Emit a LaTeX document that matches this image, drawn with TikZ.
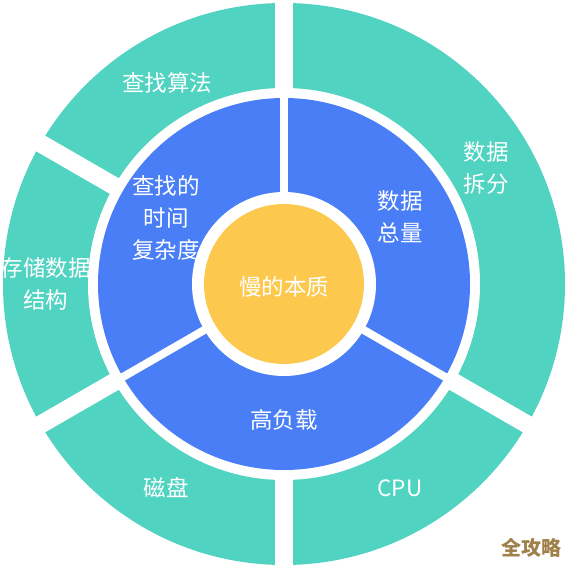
\documentclass[tikz,border=0pt]{standalone}
\usepackage{fontspec}
\newfontfamily\cjk{Noto Sans CJK SC}
\usetikzlibrary{calc}
\definecolor{tealc}{HTML}{50D3C0}
\definecolor{bluec}{HTML}{4A7EF6}
\definecolor{yellowc}{HTML}{FDC84E}
\definecolor{wmc}{HTML}{A0804A}
\tikzset{
  lbl/.style={text=white, font=\cjk\fontsize{22.5}{32}\selectfont, align=center, inner sep=0pt},
  wm/.style={text=wmc, font=\cjk\bfseries\fontsize{20}{24}\selectfont, inner sep=0pt},
  tealgap/.style={white, line width=18pt},
  bluegap/.style={white, line width=8pt}
}
\begin{document}
\begin{tikzpicture}[x=1pt,y=1pt]
\useasboundingbox (0,0) rectangle (567,568);
\coordinate (C) at (284,284);
\fill[tealc] (C) circle (281pt);
\fill[white] (C) circle (196pt);
\fill[bluec] (C) circle (186pt);
\foreach \a in {90,210,330} \draw[bluegap] (C) -- ++(\a:192pt);
\foreach \a in {90,150,210,270,330} \draw[tealgap] ($(C)+(\a:190pt)$) -- ++(\a:100pt);
\fill[white] (C) circle (92pt);
\fill[yellowc] (C) circle (80pt);
\node[lbl] (t1) at (167,485) {查找算法};
\node[lbl] (t2) at (486,400) {数据\\拆分};
\node[lbl] (t3) at (46,284) {存储数据\\结构};
\node[lbl] (t4) at (166,80) {磁盘};
\node[lbl] (t5) at (400,80) {CPU};
\node[lbl] (b1) at (166,350) {查找的\\时间\\复杂度};
\node[lbl] (b2) at (400,351) {数据\\总量};
\node[lbl] (b3) at (284,148) {高负载};
\node[lbl] (c) at (284,281) {慢的本质};
\node[wm] (w) at (531,20) {全攻略};
\end{tikzpicture}
\end{document}
